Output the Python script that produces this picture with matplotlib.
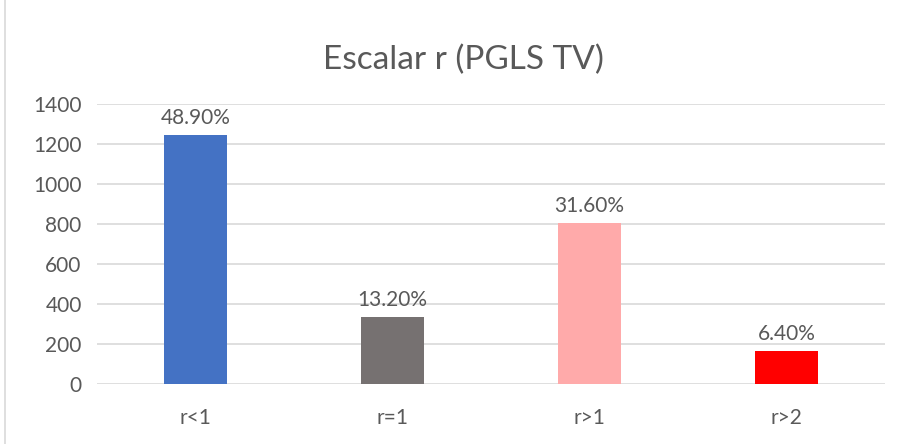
import matplotlib.pyplot as plt
from matplotlib.lines import Line2D

categories = ['r<1', 'r=1', 'r>1', 'r>2']
counts = [1245, 336, 804, 163]
percent_labels = ['48.90%', '13.20%', '31.60%', '6.40%']
bar_colors = ['#4472C4', '#767171', '#FFAAAA', '#FF0000']
y_ticks = [0, 200, 400, 600, 800, 1000, 1200, 1400]

text_color = '#595959'
plt.rcParams['font.family'] = ['Lato', 'DejaVu Sans']

fig = plt.figure(figsize=(9.02, 4.44), dpi=100)
ax = fig.add_axes([97 / 902, 1 - 384 / 444, 788 / 902, 280 / 444])

x = range(len(categories))
bars = ax.bar(x, counts, width=0.315, color=bar_colors, zorder=3)

for bar, label in zip(bars, percent_labels):
    ax.text(bar.get_x() + bar.get_width() / 2, bar.get_height() + 35, label,
            ha='center', va='bottom', fontsize=15, color=text_color)

ax.set_xlim(-0.5, len(categories) - 0.5)
ax.set_ylim(0, 1400)
ax.set_yticks(y_ticks)
ax.set_yticklabels([str(t) for t in y_ticks], fontsize=15, color=text_color)
ax.set_xticks(list(x))
ax.set_xticklabels(categories, fontsize=15, color=text_color)
ax.tick_params(axis='both', length=0)
ax.tick_params(axis='x', pad=17)
ax.tick_params(axis='y', pad=11)
ax.grid(axis='y', color='#D9D9D9', linewidth=1.2, zorder=0)
for side in ax.spines.values():
    side.set_visible(False)

fig.text(463 / 902, 1 - 60 / 444, 'Escalar r (PGLS TV)', ha='center', va='center',
         fontsize=24, color=text_color)

# thin frame edge on the left
fig.add_artist(Line2D([5 / 902, 5 / 902], [0, 1], transform=fig.transFigure,
                      color='#D9D9D9', linewidth=1.2))

fig.savefig('out.png', dpi=100)
